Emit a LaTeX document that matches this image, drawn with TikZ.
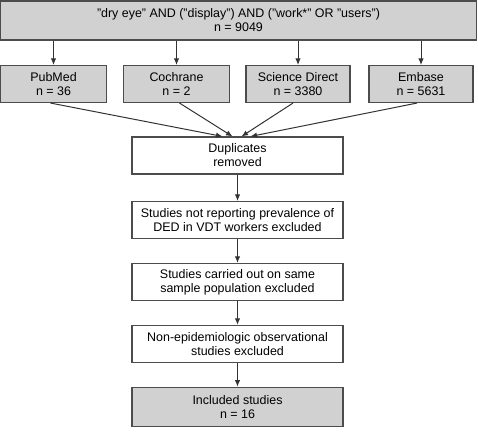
\documentclass[tikz,border=0pt]{standalone}
\usepackage{fontspec}
\setmainfont{Liberation Sans}
\usetikzlibrary{arrows.meta}
\usetikzlibrary{positioning}

\begin{document}
\begin{tikzpicture}[x=1bp, y=1bp, node distance=23.8bp,
    every node/.style={font=\fontsize{12.5}{14}\selectfont, align=center, inner sep=1bp},
    box/.style={draw=black!70, line width=1.1bp, minimum height=37bp},
    grey/.style={box, fill=black!18},
    arrow/.style={line width=1bp, draw=black!80, -{Latex[length=6.5bp,width=5.5bp]}}]

  \useasboundingbox (0,0) rectangle (478,-433);

  \node[grey, minimum width=476bp, minimum height=39bp] (search) at (238.5,-20.5)
    {"dry eye" AND ("display") AND ("work*" OR "users")\\n = 9049};

  \node[grey, minimum width=106bp] (pubmed) at (53.5,-84) {PubMed\\n = 36};
  \node[grey, minimum width=106bp] (cochrane) at (176.5,-84) {Cochrane\\n = 2};
  \node[grey, minimum width=104bp] (scidir) at (298,-84) {Science Direct\\n = 3380};
  \node[grey, minimum width=104bp] (embase) at (421,-84) {Embase\\n = 5631};

  \node[box, fill=white, minimum width=211bp] (dup) at (237.5,-155.5) {Duplicates\\removed};
  \node[box, minimum width=211bp, below=26.4bp of dup] (prev) {Studies not reporting prevalence of\\DED in VDT workers excluded};
  \node[box, minimum width=211bp, below=of prev] (same) {Studies carried out on same\\sample population excluded};
  \node[box, minimum width=211bp, below=of same] (nonepi) {Non-epidemiologic observational\\studies excluded};
  \node[grey, minimum width=211bp, minimum height=39bp, below=of nonepi] (incl) {Included studies\\n = 16};

  % search to databases
  \draw[arrow] (search.south -| pubmed.north) -- (pubmed.north);
  \draw[arrow] (search.south -| cochrane.north) -- (cochrane.north);
  \draw[arrow] (search.south -| scidir.north) -- (scidir.north);
  \draw[arrow] (search.south -| embase.north) -- (embase.north);

  % databases merge into duplicates
  \coordinate (in1) at ([xshift=-15bp]dup.north);
  \coordinate (in2) at ([xshift=-5bp]dup.north);
  \coordinate (in3) at ([xshift=4bp]dup.north);
  \coordinate (in4) at ([xshift=13bp]dup.north);
  \draw[arrow] ([xshift=-3bp]pubmed.south) -- (in1);
  \draw[arrow] ([xshift=3bp]cochrane.south) -- (in2);
  \draw[arrow] ([xshift=-5bp]scidir.south) -- (in3);
  \draw[arrow] ([xshift=-4bp]embase.south) -- (in4);

  % screening steps
  \draw[arrow] (dup) -- (prev);
  \draw[arrow] (prev) -- (same);
  \draw[arrow] (same) -- (nonepi);
  \draw[arrow] (nonepi) -- (incl);
\end{tikzpicture}
\end{document}
